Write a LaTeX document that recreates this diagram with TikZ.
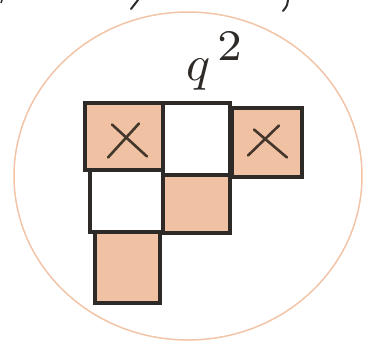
\documentclass[tikz,border=0pt]{standalone}
\usetikzlibrary{positioning,calc}
\definecolor{peach}{RGB}{238,178,140}
\definecolor{rim}{RGB}{242,196,168}
\definecolor{ink}{RGB}{45,42,40}
\tikzset{
  box/.style={draw=ink, line width=3.5pt, inner sep=0pt},
  shaded/.style={box, fill=peach!80},
  cross/.style={draw=ink!85!brown, line width=2.6pt, line cap=round},
}
\begin{document}
\begin{tikzpicture}[x=1pt,y=-1pt]
\useasboundingbox (0,0) rectangle (372,349);
\draw[rim, line width=1.5pt] (188,176) ellipse (174 and 164);

% bits of writing cut off at the top
\draw[ink, line width=2pt, line cap=round] (138,0) -- (131,9);
\draw[ink, line width=2pt, line cap=round] (288,0) .. controls (287,6) .. (283,11);
\draw[ink, line width=1.5pt] (2,0) -- (1,3);

% the diagram
\node[shaded, minimum width=78pt, minimum height=67pt] (a1) at (124,136.5) {};
\node[box, minimum width=67pt, minimum height=72pt] (a2) at (196.5,139) {};
\node[shaded, minimum width=70pt, minimum height=69pt] (a3) at (267,142.5) {};
\node[box, minimum width=73pt, minimum height=62pt] (b1) at (126.5,201) {};
\node[shaded, minimum width=67pt, minimum height=58pt] (b2) at (196.5,204) {};
\node[shaded, minimum width=65pt, minimum height=71pt] (c1) at (127.5,267.5) {};

\draw[cross] ($(a1.center)+(-12,-12)$) -- ($(a1.center)+(23,20)$);
\draw[cross] ($(a1.center)+(15,-13)$) -- ($(a1.center)+(-16,21)$);
\draw[cross] ($(a3.center)+(-13,-13)$) -- ($(a3.center)+(20,15)$);
\draw[cross] ($(a3.center)+(12,-17)$) -- ($(a3.center)+(-19,13)$);

\node[text=ink, inner sep=0pt, anchor=base west] (lbl) at (186,80)
  {\scalebox{5}{$q^{\,\raisebox{0.3pt}{\scalebox{1.25}{$\scriptstyle 2$}}}$}};
\end{tikzpicture}
\end{document}
